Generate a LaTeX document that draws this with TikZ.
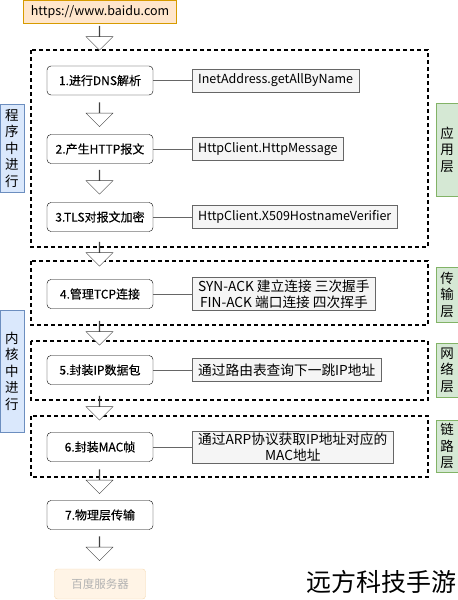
\documentclass[tikz,border=0pt]{standalone}
\usepackage{fontspec}
\setmainfont{Noto Sans CJK SC}
\newfontfamily\stepfont[FakeBold=0.2]{Noto Sans CJK SC}
\usetikzlibrary{shapes.arrows}

\definecolor{urlfill}{HTML}{FFE6CC}
\definecolor{urlline}{HTML}{D79B00}
\definecolor{apifill}{HTML}{F5F5F5}
\definecolor{apiline}{HTML}{666666}
\definecolor{kernfill}{HTML}{DAE8FC}
\definecolor{kernline}{HTML}{6C8EBF}
\definecolor{layerfill}{HTML}{D5E8D4}
\definecolor{layerline}{HTML}{82B366}
\definecolor{srvfill}{HTML}{FFF4E6}
\definecolor{srvline}{HTML}{F5D9B0}

\tikzset{
  stepbox/.style={draw, rounded corners=4pt, fill=white, minimum width=106pt, minimum height=29pt, inner sep=0pt, font=\stepfont\fontsize{12}{14}\selectfont},
  apibox/.style={draw=apiline, fill=apifill, anchor=west, minimum height=23pt, inner xsep=6pt, inner ysep=2pt, align=center, font=\fontsize{12.5}{15}\selectfont},
  apicn/.style={apibox, font=\fontsize{13.7}{16}\selectfont},
  zone/.style={draw, dash pattern=on 4pt off 3pt, line width=1.2pt},
  sidebl/.style={draw=kernline, fill=kernfill, minimum width=24pt, inner sep=0pt, align=center, font=\fontsize{13.5}{16.5}\selectfont},
  sidegr/.style={draw=layerline, fill=layerfill, minimum width=22pt, inner sep=0pt, align=center, font=\fontsize{13.5}{16.5}\selectfont},
  flow/.style={single arrow, draw=black!75, fill=white, rotate=-90, minimum height=24pt, minimum width=27pt, single arrow head extend=8pt, single arrow head indent=0pt, inner sep=0pt},
  link/.style={draw=apiline, line width=0.7pt}
}

\begin{document}
\begin{tikzpicture}[x=1pt, y=-1pt]
  \useasboundingbox (0,0) rectangle (458,600);

  % dashed layer zones
  \draw[zone] (31,50) rectangle (428,247);
  \draw[zone] (31,261) rectangle (428,325);
  \draw[zone] (31,341) rectangle (428,400);
  \draw[zone] (31,416) rectangle (428,477);

  \node[draw=urlline, fill=urlfill, minimum width=153pt, minimum height=23pt, inner sep=0pt, font=\fontsize{12.5}{14}\selectfont] (url) at (100,11.5) {https://www.baidu.com};

  \node[stepbox] (dns)  at (100,80.5) {1.进行DNS解析};
  \node[stepbox] (http) at (100,149)  {2.产生HTTP报文};
  \node[stepbox] (tls)  at (100,217)  {3.TLS对报文加密};
  \node[stepbox] (tcp)  at (100,294)  {4.管理TCP连接};
  \node[stepbox] (ip)   at (100,370)  {5.封装IP数据包};
  \node[stepbox] (mac)  at (100,447)  {6.封装MAC帧};
  \node[stepbox] (phy)  at (100,515)  {7.物理层传输};
  \node[draw=srvline, fill=srvfill, rounded corners=3pt, minimum width=91pt, minimum height=30pt, inner sep=0pt, text=black!30, font=\fontsize{11.5}{13}\selectfont] (srv) at (100,584) {百度服务器};

  \node[apibox] (dnsapi)  at (192,80.5) {InetAddress.getAllByName};
  \node[apibox] (httpapi) at (192,149)  {HttpClient.HttpMessage};
  \node[apibox] (tlsapi)  at (192,217)  {HttpClient.X509HostnameVerifier};
  \node[apicn] (tcpapi)  at (192,294)  {SYN-ACK 建立连接 三次握手\\FIN-ACK 端口连接 四次挥手};
  \node[apicn] (ipapi)   at (192,370)  {通过路由表查询下一跳IP地址};
  \node[apicn] (macapi)  at (192,447)  {通过ARP协议获取IP地址对应的\\MAC地址};

  \draw[link] (dns) -- (dnsapi);
  \draw[link] (http) -- (httpapi);
  \draw[link] (tls) -- (tlsapi);
  \draw[link] (tcp) -- (tcpapi);
  \draw[link] (ip) -- (ipapi);
  \draw[link] (mac) -- (macapi);

  % block arrows down the chain
  \node[flow] (f0) at (99.5,38)    {};
  \node[flow] (f1) at (99.5,114.5) {};
  \node[flow] (f2) at (99.5,182)   {};
  \node[flow] (f3) at (99.5,254)   {};
  \node[flow] (f4) at (99.5,333)   {};
  \node[flow] (f5) at (99.5,408)   {};
  \node[flow] (f6) at (99.5,481.5) {};
  \node[flow] (f7) at (99.5,548.5) {};

  \node[sidebl, minimum height=88pt]  (user) at (12,148) {程\\序\\中\\进\\行};
  \node[sidebl, minimum height=122pt] (kern) at (12,371) {内\\核\\中\\进\\行};

  \node[sidegr, minimum height=93pt] (app)  at (447,149.5) {应\\用\\层};
  \node[sidegr, minimum height=55pt] (trans) at (447,294.5) {传\\输\\层};
  \node[sidegr, minimum height=54pt] (net)  at (447,370)   {网\\络\\层};
  \node[sidegr, minimum height=52pt] (lnk)  at (447,446)   {链\\路\\层};

  \node[font=\fontsize{25}{27}\selectfont, inner sep=0pt] (mark) at (381,582) {远方科技手游};
\end{tikzpicture}
\end{document}
